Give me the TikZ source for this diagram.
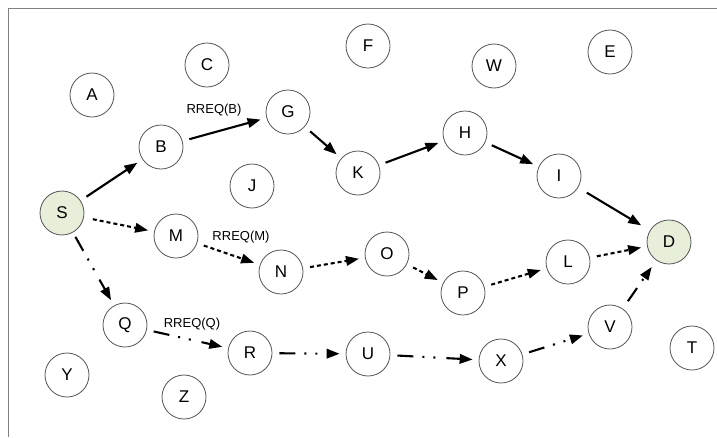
\documentclass[tikz,border=0pt]{standalone}
\usepackage{fontspec}
\setmainfont{Liberation Sans}
\usetikzlibrary{arrows.meta}
\definecolor{hostgreen}{HTML}{E7EFDA}
\definecolor{ringgray}{HTML}{555555}
\definecolor{framegray}{HTML}{808080}
\tikzset{
  host/.style={circle, draw=ringgray, line width=0.8pt, minimum size=44pt, inner sep=0pt, font=\fontsize{17}{17}\selectfont},
  endpoint/.style={host, fill=hostgreen},
  hop/.style={line width=2.1pt, -{Triangle[length=13pt,width=9.5pt]}, shorten <=7pt, shorten >=6pt},
  routeB/.style={hop},
  routeM/.style={hop, dash pattern=on 4pt off 3pt},
  routeQ/.style={hop, dash pattern=on 16pt off 9pt on 2pt off 9pt on 2pt off 11pt},
  rreq/.style={font=\fontsize{13}{13}\selectfont, inner sep=0pt}
}
\begin{document}
\begin{tikzpicture}[x=1pt, y=-1pt]
  % canvas and frame
  \fill[white] (0,0) rectangle (717,437);
  \useasboundingbox (0,0) rectangle (717,437);
  \draw[framegray, line width=1pt] (717,8) -- (8,8) -- (8,437);

  % mobile hosts
  \node[host] (A) at (92,95) {A};
  \node[host] (C) at (207,65) {C};
  \node[host] (F) at (368,46) {F};
  \node[host] (W) at (494,66) {W};
  \node[host] (E) at (610,52) {E};
  \node[host] (B) at (161,147) {B};
  \node[host] (G) at (288,112) {G};
  \node[host] (J) at (252,186) {J};
  \node[host] (K) at (358,173) {K};
  \node[host] (H) at (465,133) {H};
  \node[host] (I) at (559,176) {I};
  \node[endpoint] (S) at (62,213) {S};
  \node[endpoint] (D) at (669,242) {D};
  \node[host] (M) at (176,236) {M};
  \node[host] (N) at (281,272) {N};
  \node[host] (O) at (387,254) {O};
  \node[host] (P) at (463,293) {P};
  \node[host] (L) at (568,262) {L};
  \node[host] (Q) at (125,325) {Q};
  \node[host] (R) at (250,353) {R};
  \node[host] (U) at (368,354) {U};
  \node[host] (X) at (501,361) {X};
  \node[host] (V) at (610,327) {V};
  \node[host] (T) at (692,348) {T};
  \node[host] (Y) at (67,375) {Y};
  \node[host] (Z) at (184,397) {Z};

  % route request via B
  \draw[routeB] (S) -- (B);
  \draw[routeB] (B) -- (G);
  \draw[routeB] (G) -- (K);
  \draw[routeB] (K) -- (H);
  \draw[routeB] (H) -- (I);
  \draw[routeB, shorten <=10pt, shorten >=10pt] (I) -- (D);

  % route request via M
  \draw[routeM, shorten <=9pt] (S) -- (M);
  \draw[routeM] (M) -- (N);
  \draw[routeM] (N) -- (O);
  \draw[routeM] (O) -- (P);
  \draw[routeM] (P) -- (L);
  \draw[routeM] (L) -- (D);

  % route request via Q
  \draw[routeQ, shorten <=5pt] (S) -- (Q);
  \draw[routeQ] (Q) -- (R);
  \draw[routeQ] (R) -- (U);
  \draw[routeQ] (U) -- (X);
  \draw[routeQ] (X) -- (V);
  \draw[routeQ, shorten <=9pt, shorten >=8pt] (V) -- (D);

  % labels
  \node[rreq] (lb) at (214,110) {RREQ(B)};
  \node[rreq] (lm) at (241,237) {RREQ(M)};
  \node[rreq] (lq) at (192,324) {RREQ(Q)};
\end{tikzpicture}
\end{document}
